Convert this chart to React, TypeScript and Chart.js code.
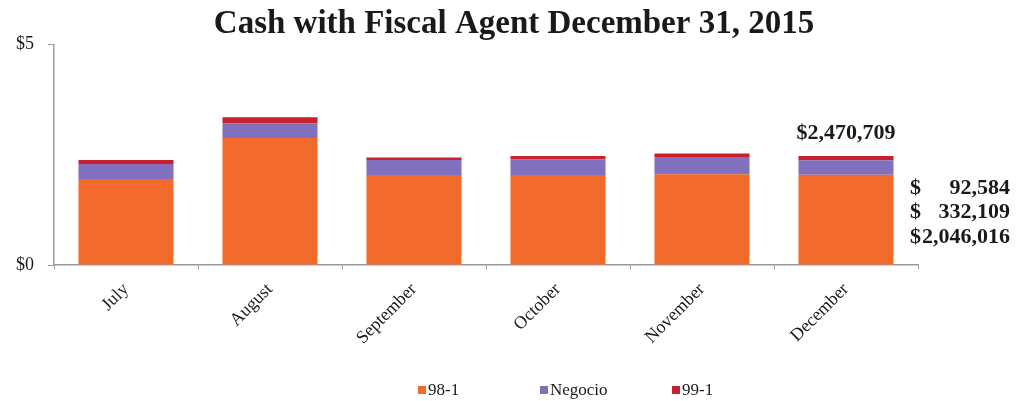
import React, { useEffect, useRef } from "react";
import { Chart, registerables } from "chart.js";
Chart.register(...registerables);

const months = ["July", "August", "September", "October", "November", "December"];
const series981 = [1.95, 2.88, 2.04, 2.04, 2.06, 2.046016];
const seriesNegocio = [0.34, 0.33, 0.34, 0.36, 0.39, 0.332109];
const series991 = [0.09, 0.14, 0.06, 0.07, 0.08, 0.092584];
const seriesNames = ["98-1", "Negocio", "99-1"];
const seriesColors = ["#F26A2C", "#8070BD", "#C8202C"];
const yTickValues = [0, 5];
const totalLabel = "$2,470,709";
const sideLabels = [
  ["$", "92,584"],
  ["$", "332,109"],
  ["$", "2,046,016"],
];
const titleText = "Cash with Fiscal Agent December 31, 2015";

const SERIF = '"Liberation Serif", "Times New Roman", serif';
const TEXT = "#1a1a1a";

const annotPlugin = {
  id: "annot",
  afterDraw(chart: any) {
    const ctx = chart.ctx;
    const ca = chart.chartArea;
    ctx.save();
    ctx.fillStyle = TEXT;
    ctx.textBaseline = "middle";
    ctx.font = `bold 22px ${SERIF}`;
    const top = chart.getDatasetMeta(2).data[months.length - 1];
    ctx.textAlign = "center";
    ctx.fillText(totalLabel, top.x, top.y - 23);
    sideLabels.forEach(([d, n], i) => {
      const y = ca.bottom - 77 + i * 24.5;
      ctx.textAlign = "left";
      ctx.fillText(d, ca.right - 8, y);
      ctx.textAlign = "right";
      ctx.fillText(n, ca.right + 92, y);
    });
    // legend
    const legendX = [364, 486, 618];
    const ly = 390;
    ctx.font = `17px ${SERIF}`;
    ctx.textAlign = "left";
    seriesNames.forEach((name, i) => {
      const x = ca.left + legendX[i];
      ctx.fillStyle = seriesColors[i];
      ctx.fillRect(x, ly - 4, 8, 8);
      ctx.fillStyle = TEXT;
      ctx.fillText(name, x + 10, ly + 1);
    });
    ctx.restore();
  },
};

export default function App() {
  const ref = useRef<HTMLCanvasElement>(null);
  useEffect(() => {
    document.body.style.margin = "0";
    const datasets = [series981, seriesNegocio, series991].map((d, i) => ({
      label: seriesNames[i],
      data: d,
      backgroundColor: seriesColors[i],
      borderWidth: 0,
      categoryPercentage: 0.66,
      barPercentage: 1,
    }));
    const chart = new Chart(ref.current!, {
      type: "bar",
      data: { labels: months, datasets },
      plugins: [annotPlugin],
      options: {
        animation: false,
        responsive: false,
        maintainAspectRatio: false,
        layout: { padding: { left: 0, right: 0, top: 0, bottom: 46 } },
        plugins: {
          legend: { display: false },
          tooltip: { enabled: false },
          title: {
            display: true,
            text: titleText,
            color: TEXT,
            font: { family: SERIF, size: 33, weight: "bold" },
            padding: { top: 5, bottom: 0 },
          },
        },
        scales: {
          x: {
            stacked: true,
            afterFit: (s: any) => {
              s.height = 90;
            },
            border: { display: true, color: "#9a9a9a", width: 1.5 },
            grid: { drawOnChartArea: false, drawTicks: true, tickLength: 4, color: "#9a9a9a" },
            ticks: {
              color: TEXT,
              font: { family: SERIF, size: 18 },
              minRotation: 45,
              maxRotation: 45,
              padding: 10,
            },
          },
          y: {
            stacked: true,
            min: 0,
            max: 5,
            afterFit: (s: any) => {
              s.width = 54;
            },
            afterBuildTicks: (s: any) => {
              s.ticks = yTickValues.map((v) => ({ value: v }));
            },
            border: { display: true, color: "#9a9a9a", width: 1.5 },
            grid: { drawOnChartArea: false, drawTicks: true, tickLength: 6, color: "#9a9a9a" },
            ticks: {
              color: TEXT,
              font: { family: SERIF, size: 18 },
              padding: 14,
              callback: (v: any) => "$" + v,
            },
          },
          yRight: {
            position: "right",
            display: true,
            afterFit: (s: any) => {
              s.width = 110;
            },
            border: { display: false },
            grid: { display: false },
            ticks: { display: false },
          },
        },
      },
    });
    return () => chart.destroy();
  }, []);
  return (
    <div style={{ position: "absolute", left: 0, top: 0, width: 1028, height: 401 }}>
      <canvas ref={ref} width={1028} height={401} style={{ width: 1028, height: 401 }} />
    </div>
  );
}
